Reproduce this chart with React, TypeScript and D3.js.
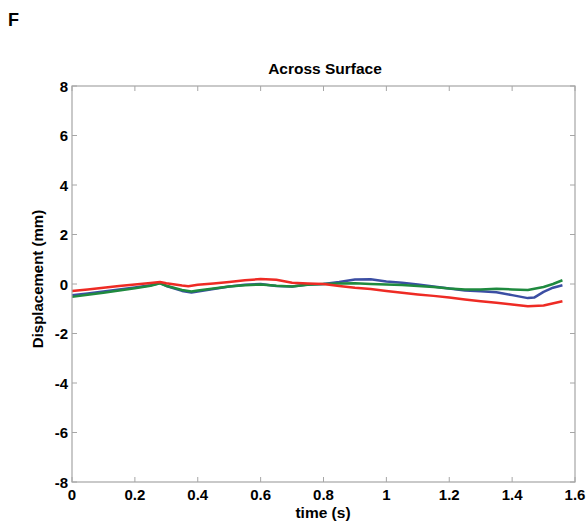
import React, { useEffect, useRef } from 'react';
import * as d3 from 'd3';

// time (s) and displacement (mm) for each of the three traces
const timeRed = [0, 0.05, 0.1, 0.15, 0.2, 0.25, 0.28, 0.3, 0.35, 0.37, 0.4, 0.45, 0.5, 0.55, 0.6, 0.65, 0.7, 0.75, 0.8, 0.85, 0.9, 0.95, 1.0, 1.05, 1.1, 1.15, 1.2, 1.25, 1.3, 1.35, 1.4, 1.45, 1.5, 1.56];
const dispRed = [-0.28, -0.22, -0.15, -0.08, -0.02, 0.04, 0.08, 0.03, -0.06, -0.09, -0.03, 0.02, 0.08, 0.15, 0.2, 0.17, 0.05, 0.02, 0, -0.08, -0.15, -0.2, -0.28, -0.35, -0.42, -0.48, -0.55, -0.63, -0.7, -0.76, -0.83, -0.9, -0.87, -0.7];

const timeBlue = [0, 0.05, 0.1, 0.15, 0.2, 0.25, 0.28, 0.3, 0.35, 0.38, 0.4, 0.45, 0.5, 0.55, 0.6, 0.65, 0.7, 0.75, 0.8, 0.85, 0.9, 0.95, 1.0, 1.05, 1.1, 1.15, 1.2, 1.25, 1.3, 1.35, 1.4, 1.45, 1.47, 1.5, 1.53, 1.56];
const dispBlue = [-0.45, -0.38, -0.3, -0.22, -0.14, -0.05, 0.04, -0.08, -0.28, -0.34, -0.3, -0.2, -0.1, -0.03, 0, -0.08, -0.1, -0.02, 0, 0.08, 0.18, 0.19, 0.1, 0.05, -0.02, -0.1, -0.18, -0.26, -0.29, -0.33, -0.45, -0.57, -0.55, -0.32, -0.15, -0.05];

const timeGreen = [0, 0.05, 0.1, 0.15, 0.2, 0.25, 0.28, 0.3, 0.35, 0.38, 0.4, 0.45, 0.5, 0.55, 0.6, 0.65, 0.7, 0.75, 0.8, 0.85, 0.9, 0.95, 1.0, 1.05, 1.1, 1.15, 1.2, 1.25, 1.3, 1.35, 1.4, 1.45, 1.5, 1.53, 1.56];
const dispGreen = [-0.52, -0.43, -0.35, -0.26, -0.17, -0.07, 0.03, -0.07, -0.24, -0.3, -0.26, -0.18, -0.1, -0.05, -0.02, -0.07, -0.1, -0.03, 0, 0.02, 0.03, 0, -0.02, -0.04, -0.08, -0.12, -0.18, -0.22, -0.22, -0.19, -0.22, -0.24, -0.12, 0, 0.15];

const xTicks = [0, 0.2, 0.4, 0.6, 0.8, 1, 1.2, 1.4, 1.6];
const yTicks = [-8, -6, -4, -2, 0, 2, 4, 6, 8];

const series = [
  { t: timeBlue, v: dispBlue, color: '#3b4ea3' },
  { t: timeGreen, v: dispGreen, color: '#1f8a3f' },
  { t: timeRed, v: dispRed, color: '#ee2b24' },
];

export default function App() {
  const svgRef = useRef<SVGSVGElement>(null);

  useEffect(() => {
    if (!svgRef.current) return;
    const svg = d3.select(svgRef.current);
    svg.selectAll('*').remove();

    const left = 72, right = 575, top = 86, bottom = 482;
    const font = 'Liberation Sans, Arial, sans-serif';

    const x = d3.scaleLinear().domain([0, 1.6]).range([left, right]);
    const y = d3.scaleLinear().domain([-8, 8]).range([bottom, top]);

    // panel letter + title
    svg.append('text').attr('x', 8).attr('y', 26)
      .attr('font-family', font).attr('font-weight', 'bold').attr('font-size', 18)
      .text('F');
    svg.append('text').attr('x', 325).attr('y', 74)
      .attr('text-anchor', 'middle')
      .attr('font-family', font).attr('font-weight', 'bold').attr('font-size', 15.5)
      .text('Across Surface');

    // lines
    const line = d3.line<[number, number]>()
      .x(d => x(d[0]))
      .y(d => y(d[1]));
    series.forEach(s => {
      svg.append('path')
        .datum(s.t.map((t, i) => [t, s.v[i]] as [number, number]))
        .attr('d', line)
        .attr('fill', 'none')
        .attr('stroke', s.color)
        .attr('stroke-width', 2.5)
        .attr('stroke-linejoin', 'round');
    });

    // box
    svg.append('rect')
      .attr('x', left).attr('y', top)
      .attr('width', right - left).attr('height', bottom - top)
      .attr('fill', 'none').attr('stroke', '#a6a6a6').attr('stroke-width', 1.2);

    const tickLen = 5;
    const tickColor = '#a6a6a6';
    xTicks.forEach(t => {
      svg.append('line').attr('x1', x(t)).attr('x2', x(t)).attr('y1', bottom).attr('y2', bottom - tickLen)
        .attr('stroke', tickColor);
      svg.append('line').attr('x1', x(t)).attr('x2', x(t)).attr('y1', top).attr('y2', top + tickLen)
        .attr('stroke', tickColor);
      svg.append('text').attr('x', x(t)).attr('y', 500)
        .attr('text-anchor', 'middle')
        .attr('font-family', font).attr('font-weight', 'bold').attr('font-size', 15)
        .text(String(t));
    });
    yTicks.forEach(t => {
      svg.append('line').attr('x1', left).attr('x2', left + tickLen).attr('y1', y(t)).attr('y2', y(t))
        .attr('stroke', tickColor);
      svg.append('line').attr('x1', right).attr('x2', right - tickLen).attr('y1', y(t)).attr('y2', y(t))
        .attr('stroke', tickColor);
      svg.append('text').attr('x', 68).attr('y', y(t) + 5.5)
        .attr('text-anchor', 'end')
        .attr('font-family', font).attr('font-weight', 'bold').attr('font-size', 15)
        .text(String(t));
    });

    // axis labels
    svg.append('text').attr('x', 323).attr('y', 518)
      .attr('text-anchor', 'middle')
      .attr('font-family', font).attr('font-weight', 'bold').attr('font-size', 15.5)
      .text('time (s)');
    svg.append('text')
      .attr('transform', `translate(43,${(top + bottom) / 2 - 5}) rotate(-90)`)
      .attr('text-anchor', 'middle')
      .attr('font-family', font).attr('font-weight', 'bold').attr('font-size', 15)
      .text('Displacement (mm)');
  }, []);

  return (
    <svg ref={svgRef} width={587} height={522}
      style={{ position: 'absolute', left: 0, top: 0, background: '#fff' }} />
  );
}
